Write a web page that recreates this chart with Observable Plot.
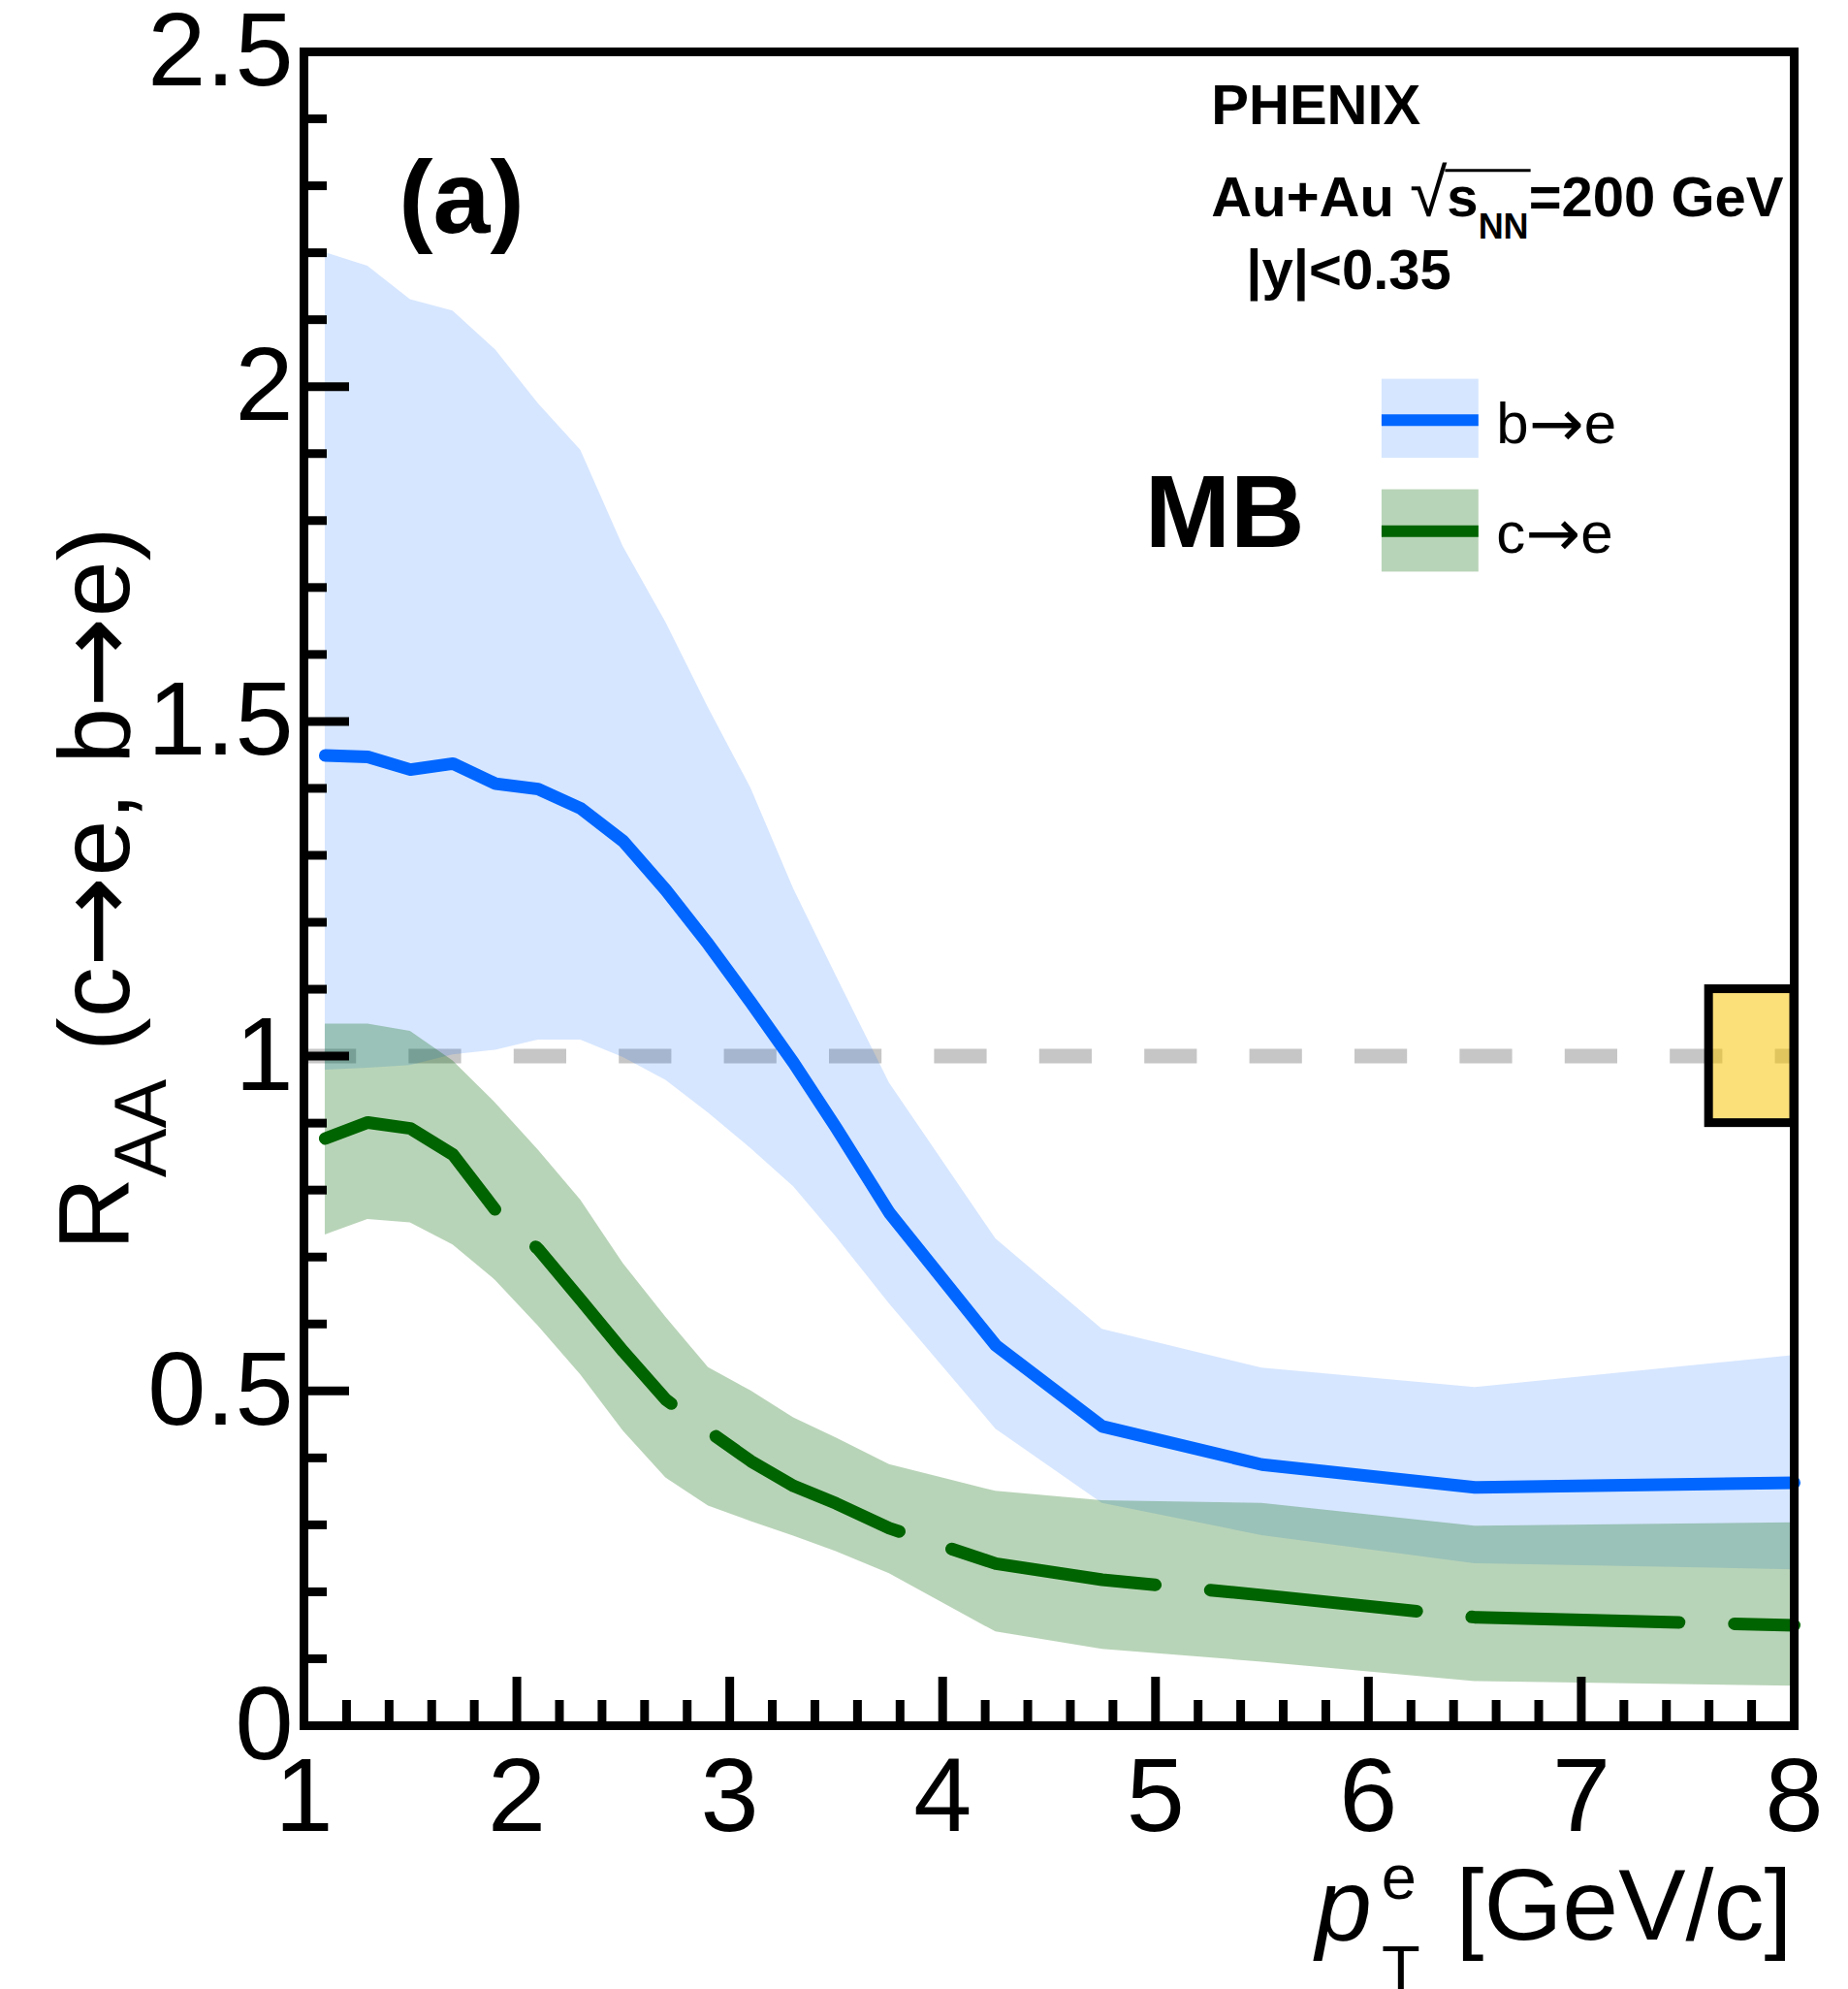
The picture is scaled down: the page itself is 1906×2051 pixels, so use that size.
<!DOCTYPE html>
<html>
<head>
<meta charset="utf-8">
<script src="https://cdn.jsdelivr.net/npm/d3@7"></script>
<script src="https://cdn.jsdelivr.net/npm/@observablehq/plot@0.6"></script>
<style>
html, body { margin: 0; padding: 0; background: #ffffff; }
#chart { width: 1906px; height: 2051px; overflow: hidden; }
</style>
</head>
<body>
<div id="chart"></div>
<script>
// ---------------- data ----------------
const pT = [1.1, 1.3, 1.5, 1.7, 1.9, 2.1, 2.3, 2.5, 2.7, 2.9, 3.1, 3.3, 3.5, 3.75, 4.25, 4.75, 5.5, 6.5, 8.0];

// b -> e
const bCentral = [1.449, 1.447, 1.428, 1.437, 1.407, 1.399, 1.370, 1.321, 1.248, 1.167, 1.080, 0.990, 0.893, 0.766, 0.568, 0.447, 0.390, 0.356, 0.363];
const bUpper   = [2.200, 2.180, 2.130, 2.113, 2.055, 1.975, 1.905, 1.761, 1.648, 1.520, 1.400, 1.250, 1.120, 0.960, 0.727, 0.592, 0.534, 0.505, 0.553];
const bLower   = [0.979, 0.982, 0.986, 1.002, 1.009, 1.024, 1.024, 0.998, 0.964, 0.915, 0.862, 0.805, 0.730, 0.630, 0.443, 0.332, 0.284, 0.242, 0.233];

// c -> e
const cCentral = [0.877, 0.901, 0.892, 0.853, 0.770, 0.712, 0.636, 0.559, 0.487, 0.440, 0.395, 0.358, 0.332, 0.295, 0.242, 0.218, 0.195, 0.162, 0.150];
const cUpper   = [1.048, 1.048, 1.037, 0.993, 0.930, 0.860, 0.785, 0.690, 0.610, 0.535, 0.500, 0.460, 0.430, 0.390, 0.350, 0.336, 0.332, 0.298, 0.303];
const cLower   = [0.733, 0.756, 0.751, 0.718, 0.665, 0.597, 0.524, 0.440, 0.370, 0.328, 0.305, 0.283, 0.260, 0.227, 0.140, 0.114, 0.095, 0.066, 0.059];

// reference line and global normalisation uncertainty box
const unityLine = [1];
const normBox = [{x1: 7.6, x2: 8.0, y1: 0.9, y2: 1.1}];

// axis ticks
const xMajor = [1, 2, 3, 4, 5, 6, 7, 8];
const xMinor = d3.range(5, 40).filter(i => i % 5 !== 0).map(i => i / 5);
const yMajor = [0, 0.5, 1, 1.5, 2, 2.5];
const yMinor = d3.range(0, 26).filter(i => i % 5 !== 0).map(i => i / 10);

// legend entries
const legendEntries = [
  {label: "b→e", x1: 6.064, x2: 6.519, y1: 1.893, y2: 2.011, yLine: 1.950, yText: 1.916, fill: "#0064ff", op: 0.16, line: "#0066ff"},
  {label: "c→e", x1: 6.064, x2: 6.519, y1: 1.723, y2: 1.846, yLine: 1.784, yText: 1.752, fill: "#006400", op: 0.28, line: "#006400"}
];
const legendTextX = 6.601;

// annotations (positions in data units)
const notes = [
  {text: "(a)", x: 1.445, y: 2.230, size: 106, weight: "bold"},
  {text: "PHENIX", x: 5.262, y: 2.392, size: 58, weight: "bold"},
  {text: "Au+Au √sNN=200 GeV", x: 5.262, y: 2.255, size: 58, weight: "bold"},
  {text: "|y|<0.35", x: 5.426, y: 2.146, size: 58, weight: "bold"},
  {text: "MB", x: 4.950, y: 1.760, size: 106, weight: "bold"}
];
const yTitle = {text: "RAA (c→e, b→e)", x: 0.176, y: 1.25};
const xTitle = {text: "pTe [GeV/c]", x: 7.99, y: -0.32};

// ---------------- build ----------------
const rows = pT.map((x, i) => ({
  pt: x,
  b: bCentral[i], bHi: bUpper[i], bLo: bLower[i],
  c: cCentral[i], cHi: cUpper[i], cLo: cLower[i]
}));

const FONT = "'Liberation Sans', Arial, Helvetica, sans-serif";
const TICKFONT = 108;

const marks = [
  Plot.ruleY(unityLine, {stroke: "#c6c6c6", strokeWidth: 15, strokeDasharray: "54.2,54.2"}),
  Plot.areaY(rows, {x: "pt", y1: "bLo", y2: "bHi", fill: "#0064ff", fillOpacity: 0.16}),
  Plot.areaY(rows, {x: "pt", y1: "cLo", y2: "cHi", fill: "#006400", fillOpacity: 0.28}),
  Plot.line(rows, {x: "pt", y: "b", stroke: "#0066ff", strokeWidth: 13, strokeLinejoin: "round"}),
  Plot.line(rows, {x: "pt", y: "c", stroke: "#006400", strokeWidth: 13, strokeDasharray: "214,57", strokeLinejoin: "round"}),
  Plot.rect(normBox, {x1: "x1", x2: "x2", y1: "y1", y2: "y2", fill: "#f8c400", fillOpacity: 0.52, stroke: "black", strokeWidth: 9}),
  // legend
  Plot.rect(legendEntries, {x1: "x1", x2: "x2", y1: "y1", y2: "y2", fill: "fill", fillOpacity: "op"}),
  Plot.ruleY(legendEntries, {x1: "x1", x2: "x2", y: "yLine", stroke: "line", strokeWidth: 12}),
  Plot.text(legendEntries, {x: () => legendTextX, y: "yText", text: "label", textAnchor: "start", lineAnchor: "bottom", fontSize: 60, fill: "black"}),
  // frame and axes
  Plot.frame({stroke: "black", strokeWidth: 9}),
  Plot.axisX({ticks: xMajor, tickSize: -50, strokeWidth: 9, fill: null, label: null}),
  Plot.axisX({ticks: xMinor, tickSize: -26, strokeWidth: 9, fill: null, label: null}),
  Plot.axisX({ticks: xMajor, tickSize: 0, tickPadding: 32, fontSize: TICKFONT, label: null, tickFormat: d => String(d)}),
  Plot.axisY({ticks: yMajor, tickSize: -47, strokeWidth: 9, fill: null, label: null}),
  Plot.axisY({ticks: yMinor, tickSize: -24, strokeWidth: 9, fill: null, label: null}),
  Plot.axisY({ticks: yMajor, tickSize: 0, tickPadding: 11, fontSize: TICKFONT, label: null, tickFormat: d => String(d)}),
  // axis titles
  Plot.text([yTitle], {x: "x", y: "y", text: "text", rotate: -90, textAnchor: "middle", lineAnchor: "bottom", fontSize: 104, fill: "black"}),
  Plot.text([xTitle], {x: "x", y: "y", text: "text", textAnchor: "end", lineAnchor: "bottom", fontSize: 104, fill: "black"})
];
for (const n of notes) {
  marks.push(Plot.text([n], {x: "x", y: "y", text: "text", textAnchor: "start", lineAnchor: "bottom", fontSize: n.size, fontWeight: n.weight, fill: "black"}));
}

const svg = Plot.plot({
  width: 1906,
  height: 2051,
  marginLeft: 313,
  marginRight: 56,
  marginTop: 53,
  marginBottom: 272,
  x: {domain: [1, 8]},
  y: {domain: [0, 2.5]},
  style: {fontFamily: FONT, background: "white", color: "black", overflow: "visible"},
  marks
});
document.getElementById("chart").appendChild(svg);

// ---------------- rich text (sub/superscripts, long arrows) ----------------
const NS = "http://www.w3.org/2000/svg";
const ARROWFONT = "'DejaVu Sans', sans-serif";
function findTexts(str) {
  return Array.from(svg.querySelectorAll("text")).filter(t => t.textContent === str);
}
function tspan(parent, str, attrs) {
  const s = document.createElementNS(NS, "tspan");
  s.textContent = str;
  for (const [k, v] of Object.entries(attrs || {})) s.setAttribute(k, v);
  parent.appendChild(s);
  return s;
}
function arrow(parent, size, lift) {
  tspan(parent, "→", {"font-family": ARROWFONT, "font-size": size, "font-weight": "normal", dy: lift});
}

// legend labels
for (const e of legendEntries) {
  for (const t of findTexts(e.label)) {
    const [a, b] = e.label.split("→");
    t.textContent = "";
    tspan(t, a);
    arrow(t, 68, 3);
    tspan(t, b, {dy: -3});
  }
}

// y title: R_AA (c→e, b→e)
for (const t of findTexts(yTitle.text)) {
  t.textContent = "";
  tspan(t, "R");
  tspan(t, "AA", {"font-size": 76, dy: 38});
  tspan(t, " (c", {dy: -38});
  arrow(t, 112, 4);
  tspan(t, "e, b", {dy: -4});
  arrow(t, 112, 4);
  tspan(t, "e)", {dy: -4});
}
// x title: p_T^e [GeV/c]
for (const t of findTexts(xTitle.text)) {
  t.textContent = "";
  tspan(t, "p", {"font-style": "italic"});
  tspan(t, "e", {"font-size": 65, dx: 10, dy: -42});
  tspan(t, "T", {"font-size": 65, dx: -36.1, dy: 93.5});
  tspan(t, " [GeV/c]", {dx: 8, dy: -51.5});
}
// Au+Au sqrt(s_NN)=200 GeV
for (const t of findTexts(notes[2].text)) {
  t.textContent = "";
  tspan(t, "Au+Au ");
  tspan(t, "√", {"font-size": 70, "font-weight": "normal"});
  tspan(t, "s");
  tspan(t, "NN", {"font-size": 36, dy: 23});
  tspan(t, "=200 GeV", {dy: -23});
  try {
    const xa = t.getEndPositionOfChar(6).x;
    const xb = t.getEndPositionOfChar(9).x;
    const yb = t.getStartPositionOfChar(7).y;
    const ln = document.createElementNS(NS, "line");
    ln.setAttribute("x1", xa - 2);
    ln.setAttribute("x2", xb + 2);
    ln.setAttribute("y1", yb - 47);
    ln.setAttribute("y2", yb - 47);
    ln.setAttribute("stroke", "black");
    ln.setAttribute("stroke-width", 3);
    const tr = t.getAttribute("transform");
    if (tr) ln.setAttribute("transform", tr);
    t.parentNode.appendChild(ln);
  } catch (e) { console.error(e); }
}
</script>
</body>
</html>
